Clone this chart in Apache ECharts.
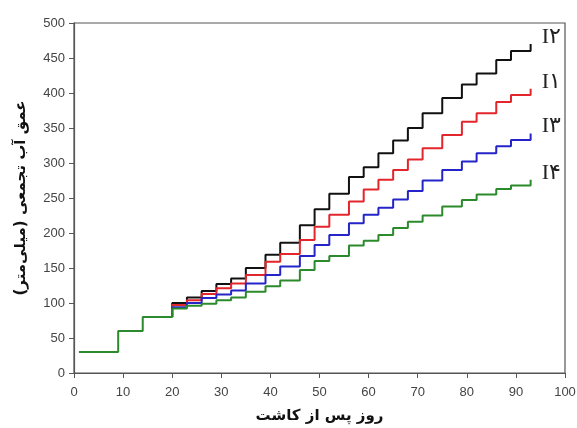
<!DOCTYPE html>
<html>
<head>
<meta charset="utf-8">
<script src="https://cdn.jsdelivr.net/npm/echarts@6/dist/echarts.min.js"></script>
<style>
html,body{margin:0;padding:0;background:#fff;}
#c{width:577px;height:428px;}
</style>
</head>
<body>
<div id="c"></div>
<script>
// Shared early irrigation (before treatments diverge)
const daysEarly = [1, 9, 14];
const valuesEarly = [30, 60, 80];
// Step days after treatments diverge
const days = [20,23,26,29,32,35,39,42,46,49,52,56,59,62,65,68,71,75,79,82,86,89,93];
const I2 = [100,108,117,127,135,150,169,186,211,234,256,280,294,314,332,350,371,393,412,428,447,460,470];
const I1 = [97,104,113,121,128,140,159,170,190,209,226,245,262,276,290,305,321,340,359,371,387,397,406];
const I3 = [94,100,107,112,118,128,140,152,167,183,197,214,226,236,248,260,275,290,302,314,324,333,342];
const I4 = [92,96,99,104,108,116,124,132,147,160,167,182,189,197,207,216,225,238,247,255,263,268,276];
const seriesNames = ['I\u06F2', 'I\u06F1', 'I\u06F3', 'I\u06F4'];
const seriesColors = ['#111111', '#e3262b', '#2424c8', '#2b8a2b'];
const xTitle = 'روز پس از کاشت';
const yTitle = 'عمق آب تجمعی (میلی‌متر)';

function build(vals, withEarly) {
  const out = [];
  if (withEarly) {
    daysEarly.forEach((d, i) => out.push([d, valuesEarly[i]]));
  } else {
    out.push([days[0], valuesEarly[valuesEarly.length - 1]]);
  }
  days.forEach((d, i) => out.push([d, vals[i]]));
  return out;
}

const allVals = [I2, I1, I3, I4];
const series = allVals.map((v, k) => ({
  name: seriesNames[k],
  type: 'line',
  step: 'end',
  showSymbol: false,
  symbol: 'none',
  data: build(v, k === 3),
  lineStyle: { color: seriesColors[k], width: 2 },
  itemStyle: { color: seriesColors[k] },
  z: 2 + k,
  animation: false,
  endLabel: {
    show: true,
    formatter: '{a}',
    offset: [3, -7],
    fontSize: 22,
    fontFamily: 'Liberation Serif, DejaVu Serif, DejaVu Sans, serif',
    color: '#222'
  }
}));

const chart = echarts.init(document.getElementById('c'), null, { renderer: 'canvas' });
chart.setOption({
  animation: false,
  backgroundColor: '#ffffff',
  grid: {
    left: 74, right: 12, top: 23, bottom: 55,
    containLabel: false, outerBoundsMode: 'none',
    show: true, borderColor: '#555', borderWidth: 1.2, backgroundColor: 'transparent'
  },
  xAxis: {
    type: 'value', min: 0, max: 100, interval: 10,
    name: xTitle, nameLocation: 'middle', nameGap: 36,
    nameTextStyle: { fontFamily: 'DejaVu Sans', fontWeight: 'bold', fontSize: 15, color: '#111' },
    axisLine: { show: true, onZero: false, lineStyle: { color: '#555', width: 1.2 } },
    axisTick: { show: true, inside: false, length: 5, lineStyle: { color: '#555' } },
    axisLabel: { color: '#444', fontSize: 13, fontFamily: 'Liberation Sans, Arial', margin: 13 },
    splitLine: { show: false }
  },
  yAxis: {
    type: 'value', min: 0, max: 500, interval: 50,
    name: yTitle, nameLocation: 'middle', nameGap: 45, nameRotate: 90,
    nameTextStyle: { fontFamily: 'DejaVu Sans', fontWeight: 'bold', fontSize: 15, color: '#111' },
    axisLine: { show: true, onZero: false, lineStyle: { color: '#555', width: 1.2 } },
    axisTick: { show: true, inside: false, length: 5, lineStyle: { color: '#555' } },
    axisLabel: { color: '#444', fontSize: 13, fontFamily: 'Liberation Sans, Arial', margin: 9 },
    splitLine: { show: false }
  },
  series: series
});
</script>
</body>
</html>
